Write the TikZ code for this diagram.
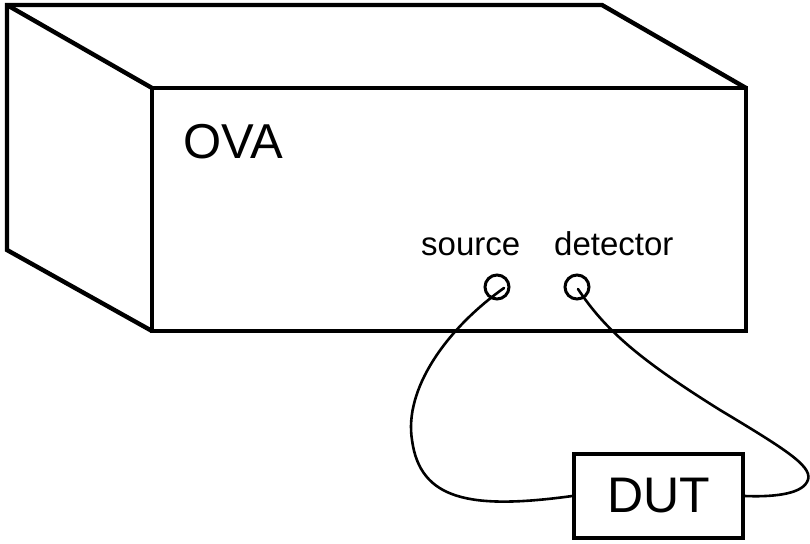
\documentclass[tikz,border=0pt]{standalone}
\usepackage{fontspec}
\setmainfont{Liberation Sans}
\usetikzlibrary{calc}
\begin{document}
\begin{tikzpicture}[x=1pt,y=-1pt,
  edge/.style={line width=4.4pt,line join=miter},
  port/.style={circle,draw,line width=3pt,minimum size=24pt,inner sep=0pt},
  cable/.style={line width=2.6pt,line cap=round},
  dutbox/.style={draw,line width=3.4pt,minimum width=169pt,minimum height=84pt,inner sep=0pt,
    font=\fontsize{50}{50}\selectfont},
  caption/.style={inner sep=0pt,anchor=base west}]
\useasboundingbox (0,0) rectangle (810,543);
% cabinet corners: back (b) and front (f)
\coordinate (btl) at (7,5);
\coordinate (btr) at (602,5);
\coordinate (bbl) at (7,250);
\coordinate (ftl) at (152,88);
\coordinate (ftr) at (746,88);
\coordinate (fbl) at (152,331);
\coordinate (fbr) at (746,331);
% cabinet outline
\draw[edge] (fbl) -- (bbl) -- (btl) -- (btr) -- (ftr);
\draw[edge] (btl) -- (ftl);
\draw[edge] (ftl) rectangle (fbr);
% labels
\node[caption,font=\fontsize{49}{49}\selectfont] (ova) at (183,158) {OVA};
\node[caption,font=\fontsize{33}{33}\selectfont] (srclbl) at (421,255) {source};
\node[caption,font=\fontsize{33}{33}\selectfont] (detlbl) at (554,255) {detector};
% connectors on the front panel
\node[port] (src) at (497,287) {};
\node[port] (det) at (577,287) {};
% device under test
\node[dutbox] (dut) at (658.5,496) {DUT};
% cable ends inside the connectors
\coordinate (srcend) at ($(src.center)+(7,1)$);
\coordinate (detend) at ($(det.center)+(1,2)$);
% cables
\draw[cable] (srcend) .. controls (445,330) and (404,390) .. (412,440)
  .. controls (420,500) and (470,510) .. (dut.west);
\draw[cable] (detend) .. controls (605,330) and (640,360) .. (720,410)
  .. controls (790,452) and (815,468) .. (807,482)
  .. controls (800,495) and (770,497) .. (dut.east);
\end{tikzpicture}
\end{document}
